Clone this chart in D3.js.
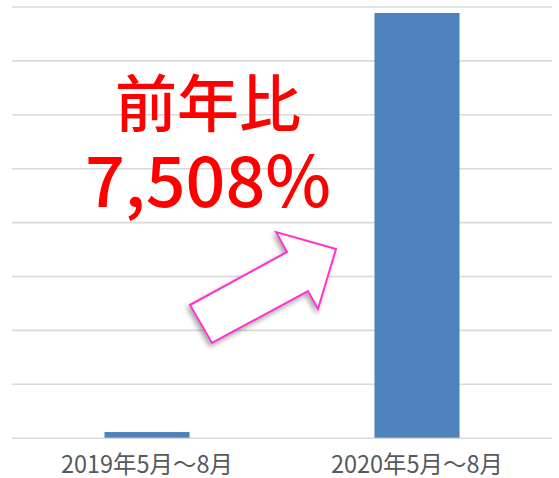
<!DOCTYPE html>
<html>
<head>
<meta charset="utf-8">
<script src="https://cdn.jsdelivr.net/npm/d3@7"></script>
<style>
  body { margin: 0; background: #fff; }
  svg { display: block; }
</style>
</head>
<body>
<svg width="559" height="478"></svg>
<script>
// data (units unknown, gridline step = 1)
const categories = ["2019年5月～8月", "2020年5月～8月"]
const values = [0.105, 7.88]
const gridTicks = [0, 1, 2, 3, 4, 5, 6, 7, 8]
const noteLines = ["前年比", "7,508%"]

const svg = d3.select("svg")

const xScale = d3.scaleBand().domain(categories).range([12, 552])
    .paddingInner(0.685).paddingOuter(0.3425)
const yScale = d3.scaleLinear().domain([0, 8]).range([437.7, 6.5])

// gridlines
const yAxis = d3.axisRight(yScale).tickValues(gridTicks).tickSize(540).tickFormat("")
svg.append("g")
    .attr("id", "yAxisG")
    .attr("transform", "translate(12, 0)")
    .call(yAxis)
svg.select("#yAxisG").select("path.domain").remove()
svg.select("#yAxisG").selectAll("line")
    .attr("stroke", "#d9d9d9")
    .attr("stroke-width", 1.6)

// bars
svg.append("g")
    .selectAll("rect")
    .data(values)
    .enter()
    .append("rect")
    .attr("x", (d, i) => xScale(categories[i]))
    .attr("y", d => yScale(d))
    .attr("width", xScale.bandwidth())
    .attr("height", d => yScale(0) - yScale(d))
    .attr("fill", "#4f81bd")

// category labels
const xAxis = d3.axisBottom(xScale).tickSize(0).tickPadding(0)
svg.append("g")
    .attr("id", "xAxisG")
    .attr("transform", "translate(0, 473)")
    .call(xAxis)
svg.select("#xAxisG").select("path.domain").remove()
svg.select("#xAxisG").selectAll("text")
    .attr("dy", 0)
    .attr("y", 0)
    .attr("fill", "#595959")
    .style("font-family", "'Noto Sans CJK JP', sans-serif")
    .style("font-size", "24px")
    .attr("textLength", 172)
    .attr("lengthAdjust", "spacingAndGlyphs")

// arrow with shadow
const defs = svg.append("defs")
const filter = defs.append("filter").attr("id", "shadow")
    .attr("x", "-20%").attr("y", "-20%").attr("width", "140%").attr("height", "140%")
filter.append("feDropShadow")
    .attr("dx", -2).attr("dy", 3).attr("stdDeviation", 2.5)
    .attr("flood-color", "#000").attr("flood-opacity", 0.35)

const arrowPts = [[190, 305], [287, 252], [276, 232], [336, 249], [318, 309], [308, 291], [212, 343]]
svg.append("path")
    .attr("d", d3.line()(arrowPts) + "Z")
    .attr("fill", "#fff")
    .attr("stroke", "#ff33cc")
    .attr("stroke-width", 2)
    .attr("stroke-linejoin", "miter")
    .attr("filter", "url(#shadow)")

// annotation text
svg.append("g")
    .selectAll("text")
    .data(noteLines)
    .enter()
    .append("text")
    .attr("x", 208)
    .attr("y", (d, i) => i === 0 ? 127 : 207)
    .attr("text-anchor", "middle")
    .attr("fill", "#ff0000")
    .style("font-family", "'Noto Sans CJK JP', sans-serif")
    .style("font-weight", 500)
    .style("font-size", (d, i) => i === 0 ? "62px" : "70px")
    .text(d => d)
</script>
</body>
</html>
